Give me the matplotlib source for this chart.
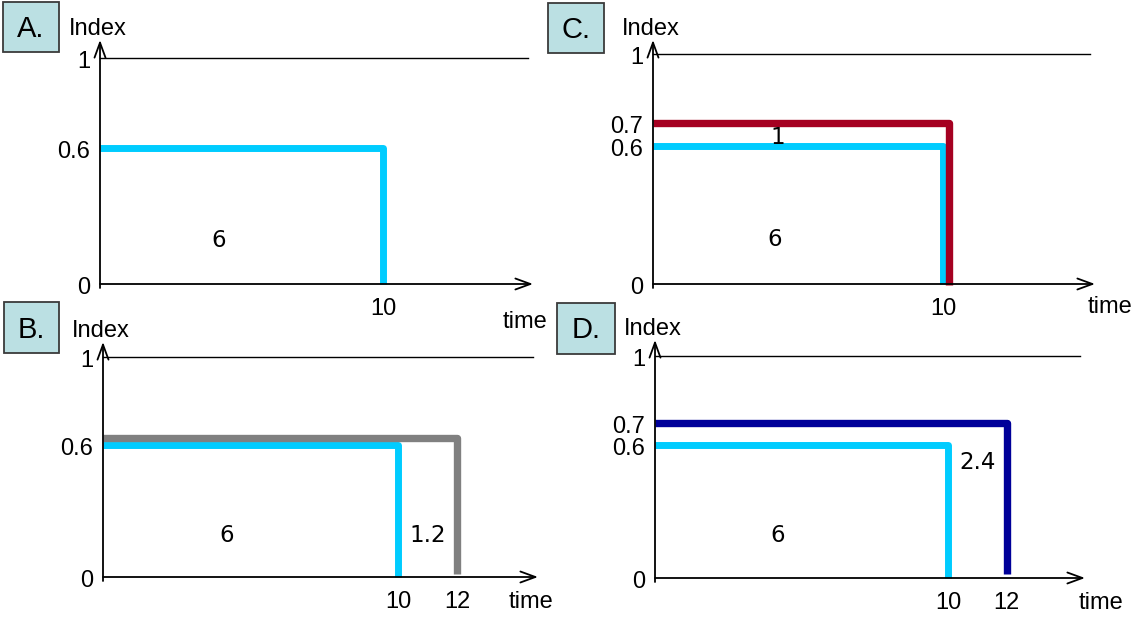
import matplotlib
matplotlib.use('Agg')
import matplotlib.pyplot as plt
from matplotlib.patches import Rectangle
from matplotlib.transforms import offset_copy

# Data: base case (cyan) and the changed case of each panel
panels = ['A.', 'B.', 'C.', 'D.']
base_time = 10
base_index = 0.6
base_area = '6'
new_time = [None, 12, 10, 12]
new_index = [None, 0.6, 0.7, 0.7]
new_area = [None, '1.2', '1', '2.4']
new_color = [None, '#808080', '#a50021', '#000099']
y_ticks = [[0, 0.6, 1], [0, 0.6, 1], [0, 0.6, 0.7, 1], [0, 0.6, 0.7, 1]]
y_labels = [['0', '0.6', '1'], ['0', '0.6', '1'], ['0', '0.6', '0.7', '1'], ['0', '0.6', '0.7', '1']]
x_ticks = [[10], [10, 12], [10], [10, 12]]
x_labels = [['10'], ['10', '12'], ['10'], ['10', '12']]

cyan = '#00ccff'
W, H = 1135, 617
lab_font = 'Liberation Sans'
num_font = 'DejaVu Sans'

# layout in pixels: origin, pixels per unit, arrow tips, letter box, "time" offset,
# nudge of the second line so both stay visible, gap left above the time axis
layout = {
    'A.': dict(ox=100, oy=284, sx=28.3, sy=226, tx=533, ty=40, box=(3, 2, 59, 52), toff=(-8, -38), shift=(0, 0), gap=0),
    'B.': dict(ox=103, oy=577, sx=29.5, sy=220, tx=538, ty=342, box=(4, 302, 59, 353), toff=(-7, -25), shift=(0, 7), gap=3),
    'C.': dict(ox=653, oy=284, sx=29.0, sy=230, tx=1095, ty=40, box=(548, 3, 604, 53), toff=(15, -23), shift=(6, 0), gap=-1),
    'D.': dict(ox=655, oy=578, sx=29.3, sy=222, tx=1085, ty=340, box=(557, 303, 615, 354), toff=(16, -25), shift=(0, 0), gap=4),
}

fig = plt.figure(figsize=(W / 100, H / 100), dpi=100)

for i, name in enumerate(panels):
    L = layout[name]
    xmax = (L['tx'] - L['ox']) / L['sx']
    ymax = (L['oy'] - L['ty']) / L['sy']
    ax = fig.add_axes([L['ox'] / W, 1 - L['oy'] / H, (L['tx'] - L['ox']) / W, (L['oy'] - L['ty']) / H])
    ax.set_xlim(0, xmax)
    ax.set_ylim(0, ymax)
    ax.axis('off')

    # axes with arrows
    arr = dict(arrowstyle='->,head_length=0.6,head_width=0.22', lw=1.3, color='black',
               mutation_scale=18, shrinkA=0, shrinkB=0)
    ax.annotate('', xy=(xmax, 0), xytext=(0, 0), arrowprops=arr, annotation_clip=False)
    ax.annotate('', xy=(0, ymax), xytext=(0, -4 / L['sy']), arrowprops=arr, annotation_clip=False)
    ax.plot([0, xmax - 5 / L['sx']], [1, 1], color='black', lw=1.0, clip_on=False)

    # base line
    ax.plot([0, base_time, base_time], [base_index, base_index, 0], color=cyan, lw=5,
            solid_joinstyle='round', solid_capstyle='butt', clip_on=False)
    # changed line, nudged by a few pixels where it would hide the base line
    if new_time[i] is not None:
        dx, dy = L['shift']
        tr = offset_copy(ax.transData, fig=fig, x=dx, y=dy, units='dots')
        xs = [-dx / L['sx'], new_time[i], new_time[i]]
        ys = [new_index[i], new_index[i], (L['gap'] - dy) / L['sy']]
        ax.plot(xs, ys, color=new_color[i], lw=5.3, solid_joinstyle='round',
                solid_capstyle='butt', transform=tr, clip_on=False)

    # area numbers
    ax.annotate(base_area, xy=(0.42 * base_time, base_index / 3), xytext=(0, -2),
                textcoords='offset pixels', fontsize=16.5, family=num_font, ha='center', va='center')
    if new_area[i] is not None:
        if new_time[i] == base_time:
            px, py, off = 0.43 * base_time, (base_index + new_index[i]) / 2, -3
        elif new_index[i] == base_index:
            px, py, off = (base_time + new_time[i]) / 2, base_index / 3, -2
        else:
            px, py, off = (base_time + new_time[i]) / 2, base_index * 0.88, -2
        ax.annotate(new_area[i], xy=(px, py), xytext=(0, off), textcoords='offset pixels',
                    fontsize=16.5, family=num_font, ha='center', va='center')

    # tick labels
    for v, s in zip(y_ticks[i], y_labels[i]):
        ax.annotate(s, xy=(0, v), xytext=(-10, -4), textcoords='offset pixels', ha='right',
                    va='center', fontsize=17, family=lab_font, annotation_clip=False)
    for v, s in zip(x_ticks[i], x_labels[i]):
        ax.annotate(s, xy=(v, 0), xytext=(0, -25), textcoords='offset pixels', ha='center',
                    va='center', fontsize=17, family=lab_font, annotation_clip=False)

    # axis titles
    ax.annotate('Index', xy=(0, ymax), xytext=(-2, 11), textcoords='offset pixels', ha='center',
                va='center', fontsize=17, family=lab_font, annotation_clip=False)
    ax.annotate('time', xy=(xmax, 0), xytext=L['toff'], textcoords='offset pixels', ha='center',
                va='center', fontsize=17, family=lab_font, annotation_clip=False)

    # panel letter box
    x0, y0, x1, y1 = L['box']
    fig.add_artist(Rectangle((x0 / W, 1 - y1 / H), (x1 - x0) / W, (y1 - y0) / H,
                             transform=fig.transFigure, facecolor='#bbe0e3', edgecolor='#3a3a3a', lw=1.3))
    fig.text((x0 + x1) / 2 / W, 1 - (y0 + y1) / 2 / H - 2 / H, name, fontsize=21, family=lab_font,
             ha='center', va='center')

fig.savefig('out.png', dpi=100)
